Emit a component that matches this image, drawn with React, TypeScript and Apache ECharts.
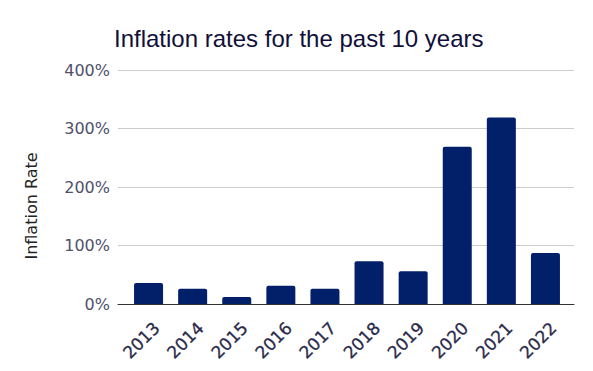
import React, { useEffect, useRef } from "react";
import * as echarts from "echarts";

const years = ["2013", "2014", "2015", "2016", "2017", "2018", "2019", "2020", "2021", "2022"];
const inflation = [36, 26, 12, 31, 26, 73, 56, 269, 319, 87];
const yTicks = { min: 0, max: 400, interval: 100 };
const titleText = "Inflation rates for the past 10 years";
const yAxisTitle = "Inflation Rate";

export default function App() {
  const ref = useRef<HTMLDivElement>(null);
  useEffect(() => {
    if (!ref.current) return;
    const chart = echarts.init(ref.current, undefined, { renderer: "svg" });
    const hiddenY = (gridIndex: number) => ({
      gridIndex,
      type: "value",
      min: yTicks.min,
      max: yTicks.max,
      interval: yTicks.interval,
      show: false,
    });
    chart.setOption({
      animation: false,
      backgroundColor: "#ffffff",
      title: {
        text: titleText,
        left: 109,
        top: 21,
        textStyle: { fontFamily: "Liberation Sans", fontSize: 24, fontWeight: "normal", color: "#10103a" },
      },
      graphic: [
        {
          type: "text",
          x: 31,
          y: 206,
          rotation: Math.PI / 2,
          style: {
            text: yAxisTitle,
            fontFamily: "DejaVu Sans",
            fontSize: 16,
            fill: "#222222",
            align: "center",
            verticalAlign: "middle",
          },
        },
      ],
      grid: [
        { left: 118, width: 456, top: 70, height: 234 },
        { left: 126.5, width: 441, top: 70, height: 234 },
        { left: 134.5, width: 441, top: 70, height: 234 },
      ],
      xAxis: [
        {
          gridIndex: 0,
          type: "value",
          min: 0,
          max: 1,
          axisLine: { show: true, onZero: false, lineStyle: { color: "#333333", width: 1 } },
          axisTick: { show: false },
          axisLabel: { show: false },
          splitLine: { show: false },
        },
        {
          gridIndex: 1,
          type: "category",
          data: years,
          axisLine: { show: false },
          axisTick: { show: false },
          axisLabel: { show: false },
        },
        {
          gridIndex: 2,
          type: "category",
          data: years,
          axisLine: { show: false },
          axisTick: { show: false },
          axisLabel: {
            rotate: 45,
            margin: 21,
            interval: 0,
            fontFamily: "DejaVu Sans",
            fontSize: 17,
            color: "#2a2a4a",
            textBorderColor: "#2a2a4a",
            textBorderWidth: 0.3,
          },
        },
      ],
      yAxis: [
        {
          gridIndex: 0,
          type: "value",
          min: yTicks.min,
          max: yTicks.max,
          interval: yTicks.interval,
          axisLine: { show: false },
          axisTick: { show: false },
          axisLabel: {
            margin: 8,
            fontFamily: "DejaVu Sans",
            fontSize: 16,
            color: "#50506a",
            formatter: (v: number) => `${v}%`,
          },
          splitLine: { lineStyle: { color: "#cccccc", width: 1 } },
        },
        hiddenY(1),
        hiddenY(2),
      ],
      series: [
        {
          type: "bar",
          xAxisIndex: 1,
          yAxisIndex: 1,
          data: inflation,
          barWidth: 29,
          itemStyle: { color: "#02206a", borderRadius: [2, 2, 0, 0] },
          z: 1,
        },
      ],
    });
    return () => chart.dispose();
  }, []);
  return <div ref={ref} style={{ width: 593, height: 371, margin: -8 }} />;
}
